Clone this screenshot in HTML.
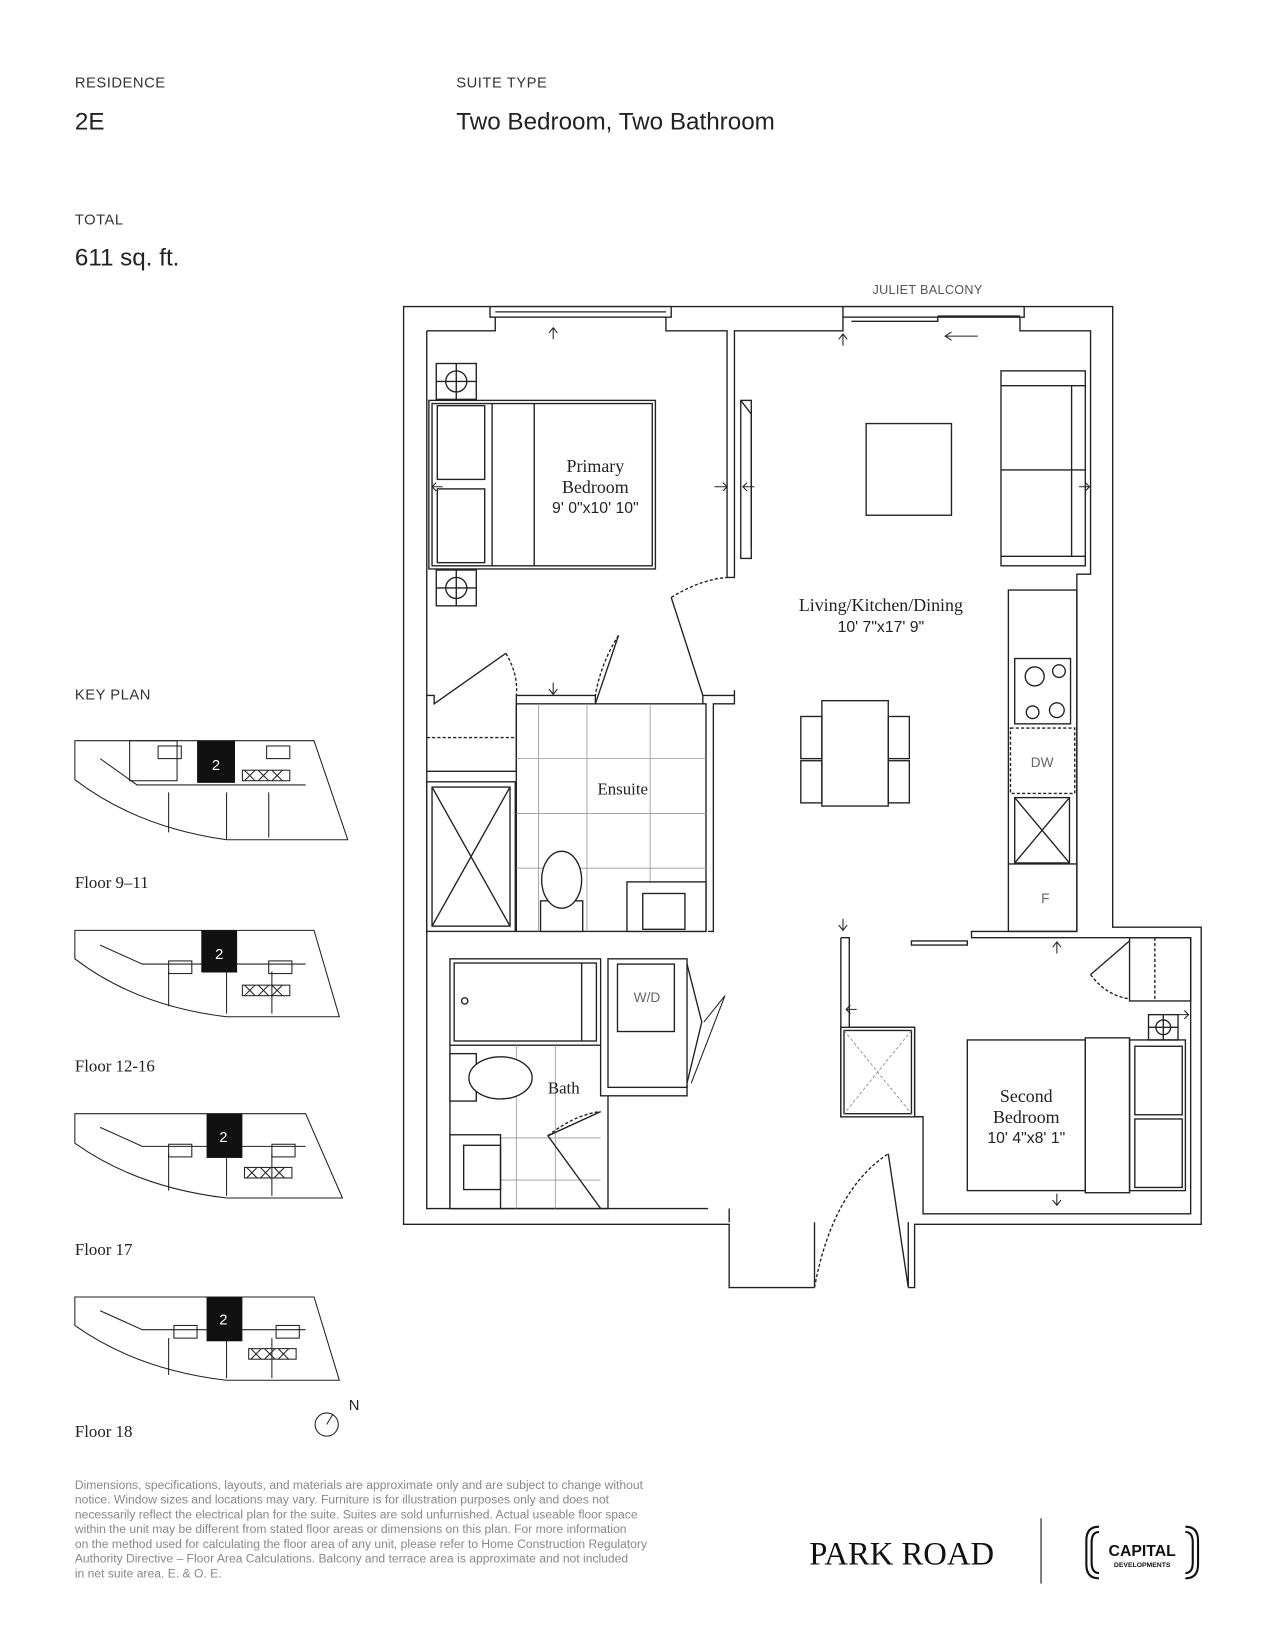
<!DOCTYPE html>
<html><head><meta charset="utf-8"><style>
html,body{margin:0;padding:0;background:#fff}
svg{display:block}
text{font-family:"Liberation Sans",sans-serif}
.s{font-family:"Liberation Serif",serif}
</style></head><body>
<svg width="1275" height="1650" viewBox="0 0 1210 1566" xmlns="http://www.w3.org/2000/svg">
<g fill="#222">
<text x="71" y="83" font-size="14" letter-spacing="0.5" fill="#333">RESIDENCE</text>
<text x="433" y="83" font-size="14" letter-spacing="0.5" fill="#333">SUITE TYPE</text>
<text x="71" y="123" font-size="23">2E</text>
<text x="433" y="123" font-size="23">Two Bedroom, Two Bathroom</text>
<text x="71" y="213" font-size="14" letter-spacing="0.5" fill="#333">TOTAL</text>
<text x="71" y="252" font-size="23">611 sq. ft.</text>
<text x="828" y="279" font-size="12" fill="#555" letter-spacing="0.3">JULIET BALCONY</text>
<text x="71" y="664" font-size="14" letter-spacing="0.5" fill="#333">KEY PLAN</text>
<text x="71" y="843" font-size="16" class="s">Floor 9–11</text>
<text x="71" y="1017" font-size="16" class="s">Floor 12-16</text>
<text x="71" y="1191" font-size="16" class="s">Floor 17</text>
<text x="71" y="1364" font-size="16" class="s">Floor 18</text>
</g>

<!-- key plans -->
<g fill="none" stroke="#222" stroke-width="1">
 <g>
  <path d="M71,703 H298 L330,797 H215 Q130,785 71,740 Z"/>
  <path d="M95,720 L130,745 H290 M160,752 V790 M215,752 V797 M255,752 V795"/>
  <rect x="123" y="703" width="45" height="38"/>
  <rect x="230" y="731" width="45" height="10"/><path d="M232,731 l10,10 m0,-10 l-10,10 M245,731 l10,10 m0,-10 l-10,10 M258,731 l10,10 m0,-10 l-10,10"/>
  <rect x="150" y="708" width="22" height="12"/><rect x="253" y="708" width="22" height="12"/>
 </g>
 <rect x="187" y="703" width="36" height="40" fill="#111" stroke="none"/>
 <g>
  <path d="M71,883 H298 L322,965 H215 Q130,955 71,910 Z"/>
  <path d="M95,897 L135,915 H290 M160,922 V955 M215,922 V962 M258,922 V962"/>
  <rect x="230" y="935" width="45" height="10"/><path d="M232,935 l10,10 m0,-10 l-10,10 M245,935 l10,10 m0,-10 l-10,10 M258,935 l10,10 m0,-10 l-10,10"/>
  <rect x="160" y="912" width="22" height="12"/><rect x="255" y="912" width="22" height="12"/>
 </g>
 <rect x="191" y="883" width="34" height="40" fill="#111" stroke="none"/>
 <g>
  <path d="M71,1057 H290 L325,1137 H215 Q130,1127 71,1085 Z"/>
  <path d="M95,1070 L135,1088 H290 M160,1095 V1130 M215,1095 V1135 M258,1095 V1135"/>
  <rect x="232" y="1108" width="45" height="10"/><path d="M234,1108 l10,10 m0,-10 l-10,10 M247,1108 l10,10 m0,-10 l-10,10 M260,1108 l10,10 m0,-10 l-10,10"/>
  <rect x="160" y="1086" width="22" height="12"/><rect x="258" y="1086" width="22" height="12"/>
 </g>
 <rect x="196" y="1057" width="34" height="42" fill="#111" stroke="none"/>
 <g>
  <path d="M71,1231 H298 L322,1310 H215 Q130,1300 71,1258 Z"/>
  <path d="M95,1244 L135,1262 H290 M160,1270 V1305 M215,1270 V1308 M258,1270 V1308"/>
  <rect x="236" y="1280" width="45" height="10"/><path d="M238,1280 l10,10 m0,-10 l-10,10 M251,1280 l10,10 m0,-10 l-10,10 M264,1280 l10,10 m0,-10 l-10,10"/>
  <rect x="165" y="1258" width="22" height="12"/><rect x="262" y="1258" width="22" height="12"/>
 </g>
 <rect x="196" y="1231" width="34" height="42" fill="#111" stroke="none"/>
 <circle cx="310" cy="1352" r="11"/><path d="M310,1352 L316,1342"/>
</g>
<g font-size="14" text-anchor="middle" fill="#ffffff">
 <text x="205" y="731" fill="#ffffff">2</text>
 <text x="208" y="910" fill="#ffffff">2</text>
 <text x="212" y="1084" fill="#ffffff">2</text>
 <text x="212" y="1257" fill="#ffffff">2</text>
</g>
<text x="331" y="1338" font-size="14" fill="#222">N</text>

<!-- floor plan -->
<g fill="none" stroke="#222" stroke-width="1.3">
 <path d="M773,1222 H692 V1162 H383 V291 H1056 V880 H1140 V1162 H868 V1222 H862"/>
 <rect x="465" y="291" width="172" height="10" fill="#fff"/><path d="M470,296 H632"/>
 <rect x="800" y="291" width="172" height="10" fill="#fff"/><path d="M808,305 H890 V300 M890,300 H968"/>
 <path d="M405,314 H470 V301 M632,301 V314 H690 V548 H697 V314 H800 V301 M968,301 V314 H1035 V545 H1022 V884 H922 V890 H1130 V1152 H876 V1060 H868 V975"/>
 <path d="M405,314 V1147 H672 M692,1147 V1160"/>
 <path d="M405,660 H412 V668 L480,620 M490,668 V660 H565 V668 M565,668 L587,603 M667,668 V660 L637,567"/>
 <path d="M480,620 Q492,640 490,660" stroke-dasharray="3,2"/>
 <path d="M587,603 Q570,630 565,660" stroke-dasharray="3,2"/>
 <path d="M637,567 Q665,550 690,548" stroke-dasharray="3,2"/>
 <path d="M667,660 H697 V668 H677 V884 H672 M697,655 V668"/>
 <path d="M405,732 H490 V668"/>
 <path d="M405,700 H490" stroke-dasharray="3,2"/>
 <rect x="703" y="380" width="10" height="150"/><path d="M703,380 L713,393 L713,520"/>
 <rect x="407" y="380" width="215" height="160"/><rect x="410" y="383" width="209" height="154"/>
 <path d="M467,383 V537 M507,383 V537"/>
 <rect x="415" y="385" width="45" height="70"/><rect x="415" y="464" width="45" height="70"/>
 <rect x="414" y="345" width="38" height="34"/><circle cx="433" cy="362" r="10"/><path d="M414,362 H452 M433,345 V379"/>
 <rect x="414" y="541" width="38" height="34"/><circle cx="433" cy="558" r="10"/><path d="M414,558 H452 M433,541 V575"/>
 <rect x="822" y="402" width="81" height="87"/>
 <rect x="950" y="352" width="80" height="185"/><path d="M950,366 H1030 M1017,366 V528 M950,446 H1030 M950,528 H1030"/>
 <rect x="957" y="560" width="65" height="324"/>
 <rect x="963" y="625" width="53" height="62"/>
 <circle cx="982" cy="642" r="9"/><circle cx="1005" cy="637" r="6"/><circle cx="980" cy="676" r="6"/><circle cx="1003" cy="674" r="7"/>
 <rect x="959" y="691" width="61" height="62" stroke-dasharray="3,2"/>
 <rect x="963" y="757" width="52" height="62"/><path d="M963,757 L1015,819 M963,819 L1015,757"/>
 <path d="M957,820 H1022"/>
 <rect x="780" y="665" width="63" height="100"/>
 <rect x="760" y="680" width="20" height="40"/><rect x="760" y="722" width="20" height="40"/>
 <rect x="843" y="680" width="20" height="40"/><rect x="843" y="722" width="20" height="40"/>
 <rect x="490" y="668" width="180" height="216"/>
 <path d="M511,668 V884 M557,668 V884 M617,668 V884 M490,720 H670 M490,772 H670 M490,824 H670" stroke="#999" stroke-width="0.8"/>
 <rect x="405" y="742" width="84" height="142" fill="#fff"/><rect x="410" y="747" width="74" height="132"/>
 <path d="M410,747 L447,813 L484,747 M410,879 L447,813 L484,879"/>
 <rect x="513" y="855" width="40" height="29" fill="#fff"/>
 <ellipse cx="533" cy="835" rx="19" ry="27" fill="#fff"/>
 <rect x="595" y="837" width="75" height="47" fill="#fff"/><rect x="610" y="848" width="40" height="34"/>
 <rect x="427" y="910" width="143" height="82" fill="#fff"/><rect x="431" y="914" width="135" height="74"/><path d="M552,914 V988"/>
 <circle cx="441" cy="950" r="3"/>
 <path d="M427,992 V1147 H577 V1040 H570 V992"/>
 <path d="M490,992 V1147 M527,992 V1147 M427,1080 H570 M427,1120 H570" stroke="#999" stroke-width="0.8"/>
 <rect x="427" y="1000" width="25" height="45" fill="#fff"/><ellipse cx="475" cy="1023" rx="30" ry="20" fill="#fff"/>
 <rect x="427" y="1077" width="48" height="70" fill="#fff"/><rect x="440" y="1087" width="35" height="42"/>
 <path d="M570,1055 L520,1078 L570,1147"/>
 <path d="M520,1078 Q545,1058 570,1055" stroke-dasharray="3,2"/>
 <rect x="577" y="910" width="75" height="122"/><rect x="586" y="915" width="54" height="64" fill="#fff"/>
 <path d="M577,1040 H652 V1030 M652,915 L666,970 L652,1028"/>
 <path d="M668,970 L688,945 L656,1028" stroke-width="1"/>
 <path d="M773,1222 V1160 M862,1222 V1160 M843,1095 L862,1222"/>
 <path d="M773,1222 Q790,1130 843,1095" stroke-dasharray="3,2"/>
 <path d="M798,890 V1060 H876 M798,890 H806 V975 H868"/>
 <rect x="798" y="975" width="70" height="85" fill="#fff"/><rect x="801" y="978" width="64" height="79"/>
 <path d="M801,978 L865,1057 M865,978 L801,1057" stroke="#888" stroke-dasharray="3,2" stroke-width="0.8"/>
 <path d="M865,893 H918 V897 H865 Z"/>
 <rect x="1072" y="890" width="58" height="60"/><path d="M1096,890 V950" stroke-dasharray="3,2"/>
 <path d="M1072,893 L1035,925"/><path d="M1035,925 Q1050,945 1072,948" stroke-dasharray="3,2"/>
 <rect x="918" y="987" width="112" height="143"/><rect x="1030" y="985" width="42" height="147"/>
 <rect x="1072" y="987" width="53" height="143"/><rect x="1077" y="993" width="45" height="65"/><rect x="1077" y="1062" width="45" height="65"/>
 <rect x="1090" y="963" width="28" height="24"/><circle cx="1104" cy="975" r="7"/><path d="M1090,975 H1118 M1104,963 V987"/>
</g>
<g stroke="#222" stroke-width="1" fill="none">
 <path d="M525,322 V312 M521,316 L525,311 L529,316"/>
 <path d="M800,328 V318 M796,322 L800,317 L804,322"/>
 <path d="M898,319 H928 M903,315 L897,319 L903,323"/>
 <path d="M678,462 H690 M686,458 L690,462 L686,466"/>
 <path d="M705,462 H716 M709,458 L705,462 L709,466"/>
 <path d="M410,462 H420 M414,458 L410,462 L414,466"/>
 <path d="M1024,462 H1034 M1030,458 L1034,462 L1030,466"/>
 <path d="M525,648 V658 M521,654 L525,659 L529,654"/>
 <path d="M800,872 V882 M796,878 L800,883 L804,878"/>
 <path d="M1003,895 V905 M999,899 L1003,894 L1007,899"/>
 <path d="M803,958 H813 M807,954 L803,958 L807,962"/>
 <path d="M1117,963 H1128 M1124,959 L1128,963 L1124,967"/>
 <path d="M1003,1133 V1143 M999,1139 L1003,1144 L1007,1139"/>
</g>
<g text-anchor="middle" fill="#222">
 <text x="565" y="448" font-size="17" class="s">Primary</text>
 <text x="565" y="468" font-size="17" class="s">Bedroom</text>
 <text x="565" y="487" font-size="15">9' 0"x10' 10"</text>
 <text x="836" y="580" font-size="17" class="s">Living/Kitchen/Dining</text>
 <text x="836" y="600" font-size="15">10' 7"x17' 9"</text>
 <text x="591" y="754" font-size="16" class="s">Ensuite</text>
 <text x="535" y="1038" font-size="16" class="s">Bath</text>
 <text x="614" y="951" font-size="13" fill="#666">W/D</text>
 <text x="989" y="728" font-size="13" fill="#666">DW</text>
 <text x="992" y="857" font-size="13" fill="#666">F</text>
 <text x="974" y="1046" font-size="17" class="s">Second</text>
 <text x="974" y="1066" font-size="17" class="s">Bedroom</text>
 <text x="974" y="1085" font-size="15">10' 4"x8' 1"</text>
</g>

<g font-size="11.5" fill="#888">
 <text x="71" y="1413">Dimensions, specifications, layouts, and materials are approximate only and are subject to change without</text>
 <text x="71" y="1427">notice. Window sizes and locations may vary. Furniture is for illustration purposes only and does not</text>
 <text x="71" y="1441">necessarily reflect the electrical plan for the suite. Suites are sold unfurnished. Actual useable floor space</text>
 <text x="71" y="1455">within the unit may be different from stated floor areas or dimensions on this plan. For more information</text>
 <text x="71" y="1469">on the method used for calculating the floor area of any unit, please refer to Home Construction Regulatory</text>
 <text x="71" y="1483">Authority Directive – Floor Area Calculations. Balcony and terrace area is approximate and not included</text>
 <text x="71" y="1497">in net suite area. E. &amp; O. E.</text>
</g>
<text x="768" y="1485" font-size="31" class="s" fill="#111">PARK ROAD</text>
<path d="M988,1441 V1503" stroke="#333" stroke-width="1.2"/>
<g fill="none" stroke="#111" stroke-width="2">
 <path d="M1043,1449 Q1031,1449 1031,1462 V1485 Q1031,1498 1043,1498"/>
 <path d="M1043,1454 Q1036,1454 1036,1464 V1483 Q1036,1493 1043,1493"/>
 <path d="M1125,1449 Q1137,1449 1137,1462 V1485 Q1137,1498 1125,1498"/>
 <path d="M1125,1454 Q1132,1454 1132,1464 V1483 Q1132,1493 1125,1493"/>
</g>
<text x="1084" y="1477" font-size="15" font-weight="bold" text-anchor="middle" fill="#111">CAPITAL</text>
<text x="1084" y="1487" font-size="6.5" font-weight="bold" text-anchor="middle" fill="#111">DEVELOPMENTS</text>
</svg>
</body></html>
